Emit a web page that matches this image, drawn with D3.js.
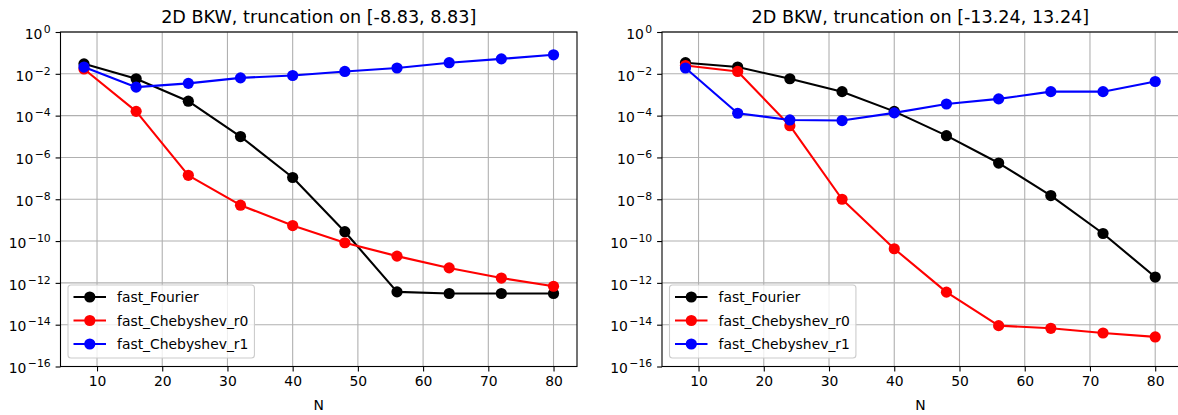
<!DOCTYPE html>
<html>
<head>
<meta charset="utf-8">
<script src="https://cdn.jsdelivr.net/npm/d3@7"></script>
<style>
  body { margin: 0; background: #fff; }
  svg { display: block; font-family: "DejaVu Sans", sans-serif; }
</style>
</head>
<body>
<div id="chart"></div>
<script>
// values (error vs N, log scale)
var N = [8, 16, 24, 32, 40, 48, 56, 64, 72, 80];

var leftFourier = [3.0e-2, 5.8e-3, 4.9e-4, 1.0e-5, 1.1e-7, 2.8e-10, 3.7e-13, 3.1e-13, 3.1e-13, 3.1e-13];
var leftChebR0  = [1.7e-2, 1.6e-4, 1.4e-7, 5.2e-9, 5.5e-10, 8.3e-11, 1.9e-11, 5.2e-12, 1.7e-12, 6.9e-13];
var leftChebR1  = [2.1e-2, 2.3e-3, 3.5e-3, 6.4e-3, 8.3e-3, 1.3e-2, 1.9e-2, 3.4e-2, 5.2e-2, 8.1e-2];

var rightFourier = [3.4e-2, 2.1e-2, 5.8e-3, 1.4e-3, 1.6e-4, 1.1e-5, 5.4e-7, 1.5e-8, 2.3e-10, 1.9e-12];
var rightChebR0  = [2.5e-2, 1.3e-2, 3.3e-5, 1.0e-8, 4.3e-11, 3.6e-13, 9.0e-15, 6.7e-15, 4.0e-15, 2.6e-15];
var rightChebR1  = [1.9e-2, 1.3e-4, 6.2e-5, 5.8e-5, 1.35e-4, 3.6e-4, 6.3e-4, 1.4e-3, 1.4e-3, 4.3e-3];

var seriesNames = ["fast_Fourier", "fast_Chebyshev_r0", "fast_Chebyshev_r1"];
var seriesColors = ["#000000", "#ff0000", "#0000ff"];

var xTicks = [10, 20, 30, 40, 50, 60, 70, 80];
var yExponents = [0, -2, -4, -6, -8, -10, -12, -14, -16];

var titles = ["2D BKW, truncation on [-8.83, 8.83]", "2D BKW, truncation on [-13.24, 13.24]"];

var width = 1178, height = 415;
var plotTop = 32, plotBottom = 366.5;
var panels = [
  {left: 60.5, right: 577, title: titles[0], data: [leftFourier, leftChebR0, leftChebR1]},
  {left: 662, right: 1178.7, title: titles[1], data: [rightFourier, rightChebR0, rightChebR1]}
];

var svg = d3.select("#chart").append("svg")
  .attr("width", width)
  .attr("height", height);

var fs = 13.9;

panels.forEach(function(p) {
  var x = d3.scaleLinear().domain([4.4, 83.6]).range([p.left, p.right]);
  var y = d3.scaleLog().domain([1e-16, 1]).range([plotBottom, plotTop]);

  var g = svg.append("g");

  // grid
  g.append("g").selectAll("line").data(xTicks).enter().append("line")
    .attr("x1", d => x(d)).attr("x2", d => x(d))
    .attr("y1", plotTop).attr("y2", plotBottom)
    .attr("stroke", "#b0b0b0").attr("stroke-width", 1.1);
  g.append("g").selectAll("line").data(yExponents).enter().append("line")
    .attr("x1", p.left).attr("x2", p.right)
    .attr("y1", d => y(Math.pow(10, d))).attr("y2", d => y(Math.pow(10, d)))
    .attr("stroke", "#b0b0b0").attr("stroke-width", 1.1);

  // x axis
  var xAxis = d3.axisBottom(x).tickValues(xTicks).tickSize(4.9).tickPadding(4.9)
    .tickFormat(d3.format("d"));
  var gx = g.append("g").attr("transform", "translate(0," + plotBottom + ")").call(xAxis);
  gx.select(".domain").remove();
  gx.selectAll("line").attr("stroke", "#000").attr("stroke-width", 1.1);
  gx.selectAll("text").attr("font-size", fs).attr("font-family", "DejaVu Sans").attr("fill", "#000");

  // y axis, labels as 10 with a superscript exponent
  var yAxis = d3.axisLeft(y).tickValues(yExponents.map(e => Math.pow(10, e)))
    .tickSize(4.9).tickPadding(4.9).tickFormat("");
  var gy = g.append("g").attr("transform", "translate(" + p.left + ",0)").call(yAxis);
  gy.select(".domain").remove();
  gy.selectAll("line").attr("stroke", "#000").attr("stroke-width", 1.1);
  gy.selectAll(".tick text")
    .attr("font-size", fs).attr("font-family", "DejaVu Sans").attr("fill", "#000")
    .attr("dy", "0.45em")
    .each(function(d) {
      var e = Math.round(Math.log10(d));
      var t = d3.select(this);
      t.append("tspan").text("10");
      t.append("tspan").attr("dx", 1.5).attr("dy", "-0.55em").attr("font-size", fs * 0.78)
        .text(e < 0 ? "\u2212" + (-e) : String(e));
    });

  // spines
  g.append("rect")
    .attr("x", p.left).attr("y", plotTop)
    .attr("width", p.right - p.left).attr("height", plotBottom - plotTop)
    .attr("fill", "none").attr("stroke", "#000").attr("stroke-width", 1.1);

  // series
  p.data.forEach(function(vals, i) {
    var pts = N.map((n, j) => [n, vals[j]]);
    var line = d3.line().x(d => x(d[0])).y(d => y(d[1]));
    g.append("path").datum(pts)
      .attr("d", line)
      .attr("fill", "none")
      .attr("stroke", seriesColors[i])
      .attr("stroke-width", 2.1)
      .attr("stroke-linejoin", "round");
    g.append("g").selectAll("circle").data(pts).enter().append("circle")
      .attr("cx", d => x(d[0])).attr("cy", d => y(d[1]))
      .attr("r", 5.6)
      .attr("fill", seriesColors[i]);
  });

  // title
  svg.append("text")
    .attr("x", (p.left + p.right) / 2)
    .attr("y", plotTop - 9)
    .attr("text-anchor", "middle")
    .attr("font-size", 17.6)
    .text(p.title);

  // x label
  svg.append("text")
    .attr("x", (p.left + p.right) / 2)
    .attr("y", 410)
    .attr("text-anchor", "middle")
    .attr("font-size", fs)
    .text("N");

  // legend
  var lx = p.left + 7.5, ly = 285;
  var lg = g.append("g").attr("transform", "translate(" + lx + "," + ly + ")");
  var box = lg.append("rect")
    .attr("rx", 3).attr("ry", 3)
    .attr("fill", "#fff").attr("fill-opacity", 0.8)
    .attr("stroke", "#cccccc").attr("stroke-width", 1.1);
  var maxW = 0;
  seriesNames.forEach(function(name, i) {
    var ry = 12 + i * 23.5;
    lg.append("line")
      .attr("x1", 5.5).attr("x2", 38).attr("y1", ry).attr("y2", ry)
      .attr("stroke", seriesColors[i]).attr("stroke-width", 2.1);
    lg.append("circle").attr("cx", 21.8).attr("cy", ry).attr("r", 5.6)
      .attr("fill", seriesColors[i]);
    var t = lg.append("text")
      .attr("x", 49).attr("y", ry).attr("dy", "0.36em")
      .attr("font-size", fs)
      .text(name);
    maxW = Math.max(maxW, t.node().getComputedTextLength());
  });
  box.attr("width", 49 + maxW + 6).attr("height", 73);
});
</script>
</body>
</html>
